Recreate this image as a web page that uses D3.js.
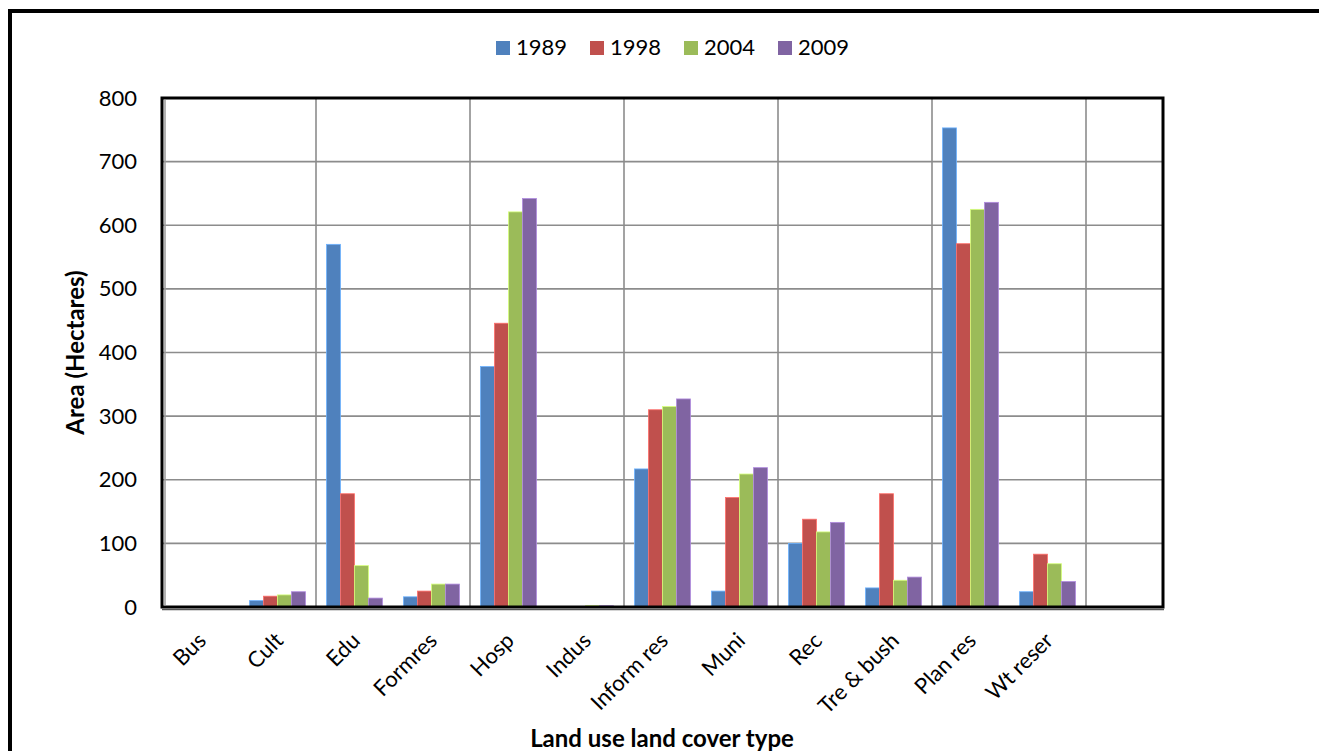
<!DOCTYPE html>
<html>
<head>
<meta charset="utf-8">
<script src="https://cdn.jsdelivr.net/npm/d3@7"></script>
<style>
  html, body { margin: 0; padding: 0; background: #fff; }
  svg { display: block; font-family: Lato, "Open Sans", sans-serif; }
</style>
</head>
<body>
<svg id="chart" width="1319" height="751"></svg>
<script>
// Land use / land cover area by year (hectares)
const categories = ["Bus", "Cult", "Edu", "Formres", "Hosp", "Indus", "Inform res", "Muni", "Rec", "Tre & bush", "Plan res", "Wt reser"];
const years = ["1989", "1998", "2004", "2009"];
const values1989 = [0, 10, 570, 16, 378, 0, 217, 25, 100, 30, 753, 24];
const values1998 = [0, 17, 178, 25, 446, 0, 310, 172, 138, 178, 571, 83];
const values2004 = [0, 19, 65, 36, 621, 2, 315, 209, 118, 42, 625, 68];
const values2009 = [0, 24, 14, 36, 642, 2, 327, 219, 133, 47, 636, 40];
const yTicks = [0, 100, 200, 300, 400, 500, 600, 700, 800];
const colors = ["#4F81BD", "#C0504D", "#9BBB59", "#8064A2"];

const seriesValues = [values1989, values1998, values2004, values2009];
const rows = categories.map((c, i) => ({ cat: c, vals: years.map((y, j) => ({ year: y, v: seriesValues[j][i] })) }));

const svg = d3.select("#chart");
const plot = { left: 162, right: 1163, top: 98, bottom: 607 };

// outer frame (top and left edges visible)
svg.append("line").attr("x1", 8).attr("x2", 1319).attr("y1", 11).attr("y2", 11)
  .attr("stroke", "#000").attr("stroke-width", 4);
svg.append("line").attr("x1", 10).attr("x2", 10).attr("y1", 9).attr("y2", 751)
  .attr("stroke", "#000").attr("stroke-width", 4);

// an extra empty slot follows the last category
const slots = [...categories, " "];
const x = d3.scaleBand().domain(slots).range([plot.left, plot.right]).padding(0);
const xi = d3.scaleBand().domain(years).range([0, x.step()]).paddingInner(0).paddingOuter(0.75);
const y = d3.scaleLinear().domain([0, 800]).range([plot.bottom, plot.top]);

// horizontal gridlines
svg.append("g").selectAll("line").data(yTicks.filter(t => t > 0 && t < 800)).join("line")
  .attr("x1", plot.left).attr("x2", plot.right)
  .attr("y1", d => y(d)).attr("y2", d => y(d))
  .attr("stroke", "#8c8c8c").attr("stroke-width", 1.6);

// vertical gridlines every second category
const vIdx = d3.range(2, slots.length, 2);
svg.append("g").selectAll("line").data(vIdx).join("line")
  .attr("x1", i => x(slots[i])).attr("x2", i => x(slots[i]))
  .attr("y1", plot.top).attr("y2", plot.bottom)
  .attr("stroke", "#8c8c8c").attr("stroke-width", 1.6);

// bars
const groups = svg.append("g").selectAll("g").data(rows).join("g")
  .attr("transform", d => `translate(${x(d.cat)},0)`);
groups.selectAll("rect").data(d => d.vals).join("rect")
  .attr("x", d => xi(d.year))
  .attr("width", xi.bandwidth())
  .attr("y", d => y(d.v))
  .attr("height", d => y(0) - y(d.v))
  .attr("fill", (d, i) => colors[i])
  .attr("stroke", (d, i) => d3.color(colors[i]).brighter(0.9))
  .attr("stroke-width", 0.8);

// plot frame
svg.append("rect")
  .attr("x", plot.left).attr("y", plot.top)
  .attr("width", plot.right - plot.left).attr("height", plot.bottom - plot.top)
  .attr("fill", "none").attr("stroke", "#000").attr("stroke-width", 3);
svg.append("line").attr("x1", plot.left + 3).attr("x2", plot.left + 3)
  .attr("y1", plot.top + 2).attr("y2", plot.bottom - 2)
  .attr("stroke", "#9a9a9a").attr("stroke-width", 1.5);
svg.append("line").attr("x1", plot.left).attr("x2", plot.right + 1)
  .attr("y1", plot.bottom + 2.5).attr("y2", plot.bottom + 2.5)
  .attr("stroke", "#555").attr("stroke-width", 1.5);

// y axis labels
const yAxis = d3.axisLeft(y).tickValues(yTicks).tickSize(0).tickPadding(25);
const yg = svg.append("g").attr("transform", `translate(${plot.left},0)`).call(yAxis);
yg.select(".domain").remove();
yg.selectAll("text").attr("font-size", 22).attr("font-family", "Lato, sans-serif").attr("fill", "#000");

// x axis labels, rotated
svg.append("g").selectAll("text").data(categories).join("text")
  .attr("transform", d => `translate(${x(d) + x.bandwidth() / 2 + 7},${plot.bottom + 35}) rotate(-45)`)
  .attr("text-anchor", "end")
  .attr("font-size", 22)
  .attr("fill", "#000")
  .text(d => d);

// axis titles
svg.append("text")
  .attr("transform", `translate(84,${(plot.top + plot.bottom) / 2}) rotate(-90)`)
  .attr("text-anchor", "middle")
  .attr("font-size", 24).attr("font-weight", "bold")
  .text("Area (Hectares)");
svg.append("text")
  .attr("x", 662).attr("y", 747)
  .attr("text-anchor", "middle")
  .attr("font-size", 24).attr("font-weight", "bold")
  .text("Land use land cover type");

// legend
const legendX = [496, 590, 684, 778];
const lg = svg.append("g").selectAll("g").data(years).join("g")
  .attr("transform", (d, i) => `translate(${legendX[i]},41)`);
lg.append("rect").attr("width", 14).attr("height", 14).attr("fill", (d, i) => colors[i]);
lg.append("text").attr("x", 20).attr("y", 14).attr("font-size", 22).attr("fill", "#000").text(d => d);
</script>
</body>
</html>
